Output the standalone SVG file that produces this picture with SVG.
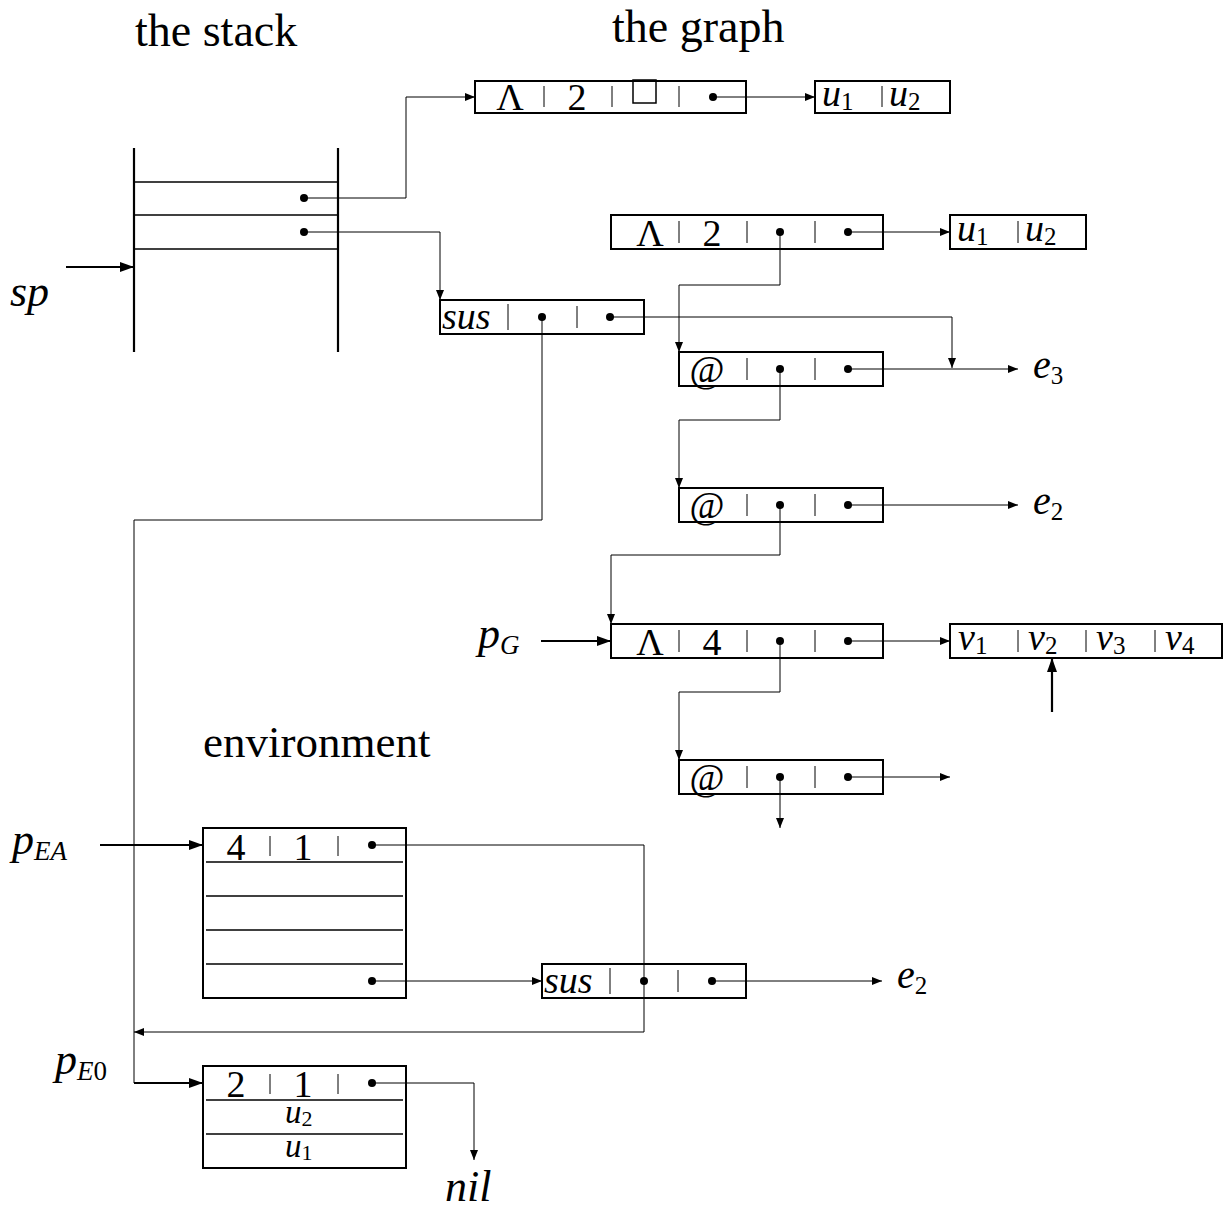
<svg xmlns="http://www.w3.org/2000/svg" width="1232" height="1211" viewBox="0 0 1232 1211">
<defs>
<style>
.box{fill:#fff;stroke:#000;stroke-width:2}
.sep{stroke:#000;stroke-width:1}
.in{stroke:#000;stroke-width:1.3}
.ln{fill:none;stroke:#000;stroke-width:1}
.thk{fill:none;stroke:#000;stroke-width:2.2}
.dot{fill:#000}
text{font-family:"Liberation Serif","DejaVu Serif",serif;fill:#000}
.t{font-size:38px;text-anchor:middle}
.m{font-style:italic}
.ttl{font-size:46px}
.sub{font-size:25px;font-style:normal}
.si{font-size:27px;font-style:italic}
.su{font-size:27px;font-style:normal}
</style>
<marker id="a" viewBox="0 0 10 8" refX="10" refY="4" markerWidth="10" markerHeight="8" markerUnits="userSpaceOnUse" orient="auto"><path d="M0,0L10,4L0,8z" fill="#000"/></marker>
<marker id="A" viewBox="0 0 14 10" refX="14" refY="5" markerWidth="14" markerHeight="10" markerUnits="userSpaceOnUse" orient="auto"><path d="M0,0L14,5L0,10z" fill="#000"/></marker>
</defs>
<rect width="1232" height="1211" fill="#fff"/>

<text class="ttl" x="135" y="46">the stack</text>
<text class="ttl" x="612" y="42">the graph</text>
<text x="203" y="757" font-size="45">environment</text>

<g id="stack">
<line class="thk" x1="134" y1="148" x2="134" y2="352"/>
<line class="thk" x1="338" y1="148" x2="338" y2="352"/>
<line class="in" x1="134" y1="182" x2="338" y2="182"/>
<line class="in" x1="134" y1="215" x2="338" y2="215"/>
<line class="in" x1="134" y1="249" x2="338" y2="249"/>
<circle class="dot" cx="304" cy="198" r="4"/>
<circle class="dot" cx="304" cy="232" r="4"/>
</g>
<g id="sp"><text class="m" x="10" y="306" font-size="44">sp</text></g>

<g id="lam2top">
<rect class="box" x="475" y="81" width="271" height="32"/>
<text class="t" x="510" y="110">Λ</text>
<line class="sep" x1="544" y1="86" x2="544" y2="107"/>
<text class="t" x="577" y="110">2</text>
<line class="sep" x1="612" y1="86" x2="612" y2="107"/>
<rect x="633" y="80" width="23" height="23" fill="none" stroke="#000" stroke-width="1.5"/>
<line class="sep" x1="679" y1="86" x2="679" y2="107"/>
<circle class="dot" cx="713" cy="97" r="4"/>
</g>
<g id="u12top">
<rect class="box" x="815" y="81" width="135" height="32"/>
<text class="m" x="822" y="106" font-size="38">u<tspan class="sub" dy="4">1</tspan></text>
<line class="sep" x1="882" y1="86" x2="882" y2="107"/>
<text class="m" x="889" y="106" font-size="38">u<tspan class="sub" dy="4">2</tspan></text>
</g>

<g id="lam2">
<rect class="box" x="611" y="215" width="272" height="34"/>
<text class="t" x="650" y="246">Λ</text>
<line class="sep" x1="679" y1="221" x2="679" y2="243"/>
<text class="t" x="712" y="246">2</text>
<line class="sep" x1="747" y1="221" x2="747" y2="243"/>
<circle class="dot" cx="780" cy="232" r="4"/>
<line class="sep" x1="815" y1="221" x2="815" y2="243"/>
<circle class="dot" cx="848" cy="232" r="4"/>
</g>
<g id="u12">
<rect class="box" x="950" y="215" width="136" height="34"/>
<text class="m" x="957" y="241" font-size="38">u<tspan class="sub" dy="4">1</tspan></text>
<line class="sep" x1="1018" y1="221" x2="1018" y2="243"/>
<text class="m" x="1025" y="241" font-size="38">u<tspan class="sub" dy="4">2</tspan></text>
</g>

<g id="sus1">
<rect class="box" x="440" y="300" width="204" height="34"/>
<text class="m" x="442" y="329" font-size="38">sus</text>
<line class="sep" x1="508" y1="304" x2="508" y2="330"/>
<circle class="dot" cx="542" cy="317" r="4"/>
<line class="sep" x1="577" y1="306" x2="577" y2="328"/>
<circle class="dot" cx="610" cy="317" r="4"/>
</g>

<g id="app1">
<rect class="box" x="679" y="352" width="204" height="34"/>
<text class="t" x="707" y="382">@</text>
<line class="sep" x1="747" y1="358" x2="747" y2="380"/>
<circle class="dot" cx="780" cy="369" r="4"/>
<line class="sep" x1="815" y1="358" x2="815" y2="380"/>
<circle class="dot" cx="848" cy="369" r="4"/>
</g>
<g id="e3"><text class="m" x="1033" y="378" font-size="40">e<tspan class="sub" dy="6">3</tspan></text></g>

<g id="app2">
<rect class="box" x="679" y="488" width="204" height="34"/>
<text class="t" x="707" y="518">@</text>
<line class="sep" x1="747" y1="494" x2="747" y2="516"/>
<circle class="dot" cx="780" cy="505" r="4"/>
<line class="sep" x1="815" y1="494" x2="815" y2="516"/>
<circle class="dot" cx="848" cy="505" r="4"/>
</g>
<g id="e2a"><text class="m" x="1033" y="514" font-size="40">e<tspan class="sub" dy="6">2</tspan></text></g>

<g id="lam4">
<rect class="box" x="611" y="624" width="272" height="34"/>
<text class="t" x="650" y="655">Λ</text>
<line class="sep" x1="679" y1="630" x2="679" y2="652"/>
<text class="t" x="712" y="655">4</text>
<line class="sep" x1="747" y1="630" x2="747" y2="652"/>
<circle class="dot" cx="780" cy="641" r="4"/>
<line class="sep" x1="815" y1="630" x2="815" y2="652"/>
<circle class="dot" cx="848" cy="641" r="4"/>
</g>
<g id="pG"><text class="m" x="478" y="648" font-size="44">p<tspan class="si" dy="6">G</tspan></text></g>
<g id="v14">
<rect class="box" x="950" y="624" width="272" height="34"/>
<text class="m" x="958" y="650" font-size="38">v<tspan class="sub" dy="4">1</tspan></text>
<line class="sep" x1="1018" y1="630" x2="1018" y2="652"/>
<text class="m" x="1028" y="650" font-size="38">v<tspan class="sub" dy="4">2</tspan></text>
<line class="sep" x1="1086" y1="630" x2="1086" y2="652"/>
<text class="m" x="1096" y="650" font-size="38">v<tspan class="sub" dy="4">3</tspan></text>
<line class="sep" x1="1155" y1="630" x2="1155" y2="652"/>
<text class="m" x="1165" y="650" font-size="38">v<tspan class="sub" dy="4">4</tspan></text>
</g>

<g id="app3">
<rect class="box" x="679" y="760" width="204" height="34"/>
<text class="t" x="707" y="790">@</text>
<line class="sep" x1="747" y1="766" x2="747" y2="788"/>
<circle class="dot" cx="780" cy="777" r="4"/>
<line class="sep" x1="815" y1="766" x2="815" y2="788"/>
<circle class="dot" cx="848" cy="777" r="4"/>
</g>

<g id="envA">
<rect class="box" x="203" y="828" width="203" height="170"/>
<line class="in" x1="206" y1="862" x2="403" y2="862"/>
<line class="in" x1="206" y1="896" x2="403" y2="896"/>
<line class="in" x1="206" y1="930" x2="403" y2="930"/>
<line class="in" x1="206" y1="964" x2="403" y2="964"/>
<text class="t" x="236" y="860">4</text>
<line class="sep" x1="270" y1="836" x2="270" y2="856"/>
<text class="t" x="303" y="860">1</text>
<line class="sep" x1="338" y1="836" x2="338" y2="856"/>
<circle class="dot" cx="372" cy="845" r="4"/>
<circle class="dot" cx="372" cy="981" r="4"/>
</g>
<g id="pEA"><text class="m" x="12" y="854" font-size="44">p<tspan class="si" dy="6">EA</tspan></text></g>

<g id="sus2">
<rect class="box" x="542" y="964" width="204" height="34"/>
<text class="m" x="544" y="993" font-size="38">sus</text>
<line class="sep" x1="610" y1="968" x2="610" y2="994"/>
<circle class="dot" cx="644" cy="981" r="4"/>
<line class="sep" x1="678" y1="970" x2="678" y2="992"/>
<circle class="dot" cx="712" cy="981" r="4"/>
</g>
<g id="e2b"><text class="m" x="897" y="988" font-size="40">e<tspan class="sub" dy="6">2</tspan></text></g>

<g id="env0">
<rect class="box" x="203" y="1066" width="203" height="102"/>
<line class="in" x1="206" y1="1100" x2="403" y2="1100"/>
<line class="in" x1="206" y1="1134" x2="403" y2="1134"/>
<text class="t" x="236" y="1097">2</text>
<line class="sep" x1="270" y1="1074" x2="270" y2="1094"/>
<text class="t" x="303" y="1097">1</text>
<line class="sep" x1="338" y1="1074" x2="338" y2="1094"/>
<circle class="dot" cx="372" cy="1083" r="4"/>
<text class="m" x="285" y="1123" font-size="33">u<tspan font-size="22" font-style="normal" dy="3">2</tspan></text>
<text class="m" x="285" y="1157" font-size="33">u<tspan font-size="22" font-style="normal" dy="3">1</tspan></text>
</g>
<g id="pE0"><text class="m" x="55" y="1074" font-size="44">p<tspan class="si" dy="6">E</tspan><tspan class="su">0</tspan></text></g>
<g id="nil"><text class="m" x="445" y="1201" font-size="44">nil</text></g>

<g id="connectors">
<path class="ln" d="M304,198H406V97H475" marker-end="url(#a)"/>
<path class="ln" d="M304,232H440V300" marker-end="url(#a)"/>
<path class="thk" d="M66,267H134" marker-end="url(#A)"/>
<path class="ln" d="M713,97H815" marker-end="url(#a)"/>
<path class="ln" d="M848,232H950" marker-end="url(#a)"/>
<path class="ln" d="M780,232V285H679V352" marker-end="url(#a)"/>
<path class="ln" d="M610,317H952V368" marker-end="url(#a)"/>
<path class="ln" d="M848,369H1018" marker-end="url(#a)"/>
<path class="ln" d="M780,369V420H679V488" marker-end="url(#a)"/>
<path class="ln" d="M848,505H1018" marker-end="url(#a)"/>
<path class="ln" d="M780,505V555H611V624" marker-end="url(#a)"/>
<path class="thk" d="M541,641H611" marker-end="url(#A)"/>
<path class="ln" d="M848,641H950" marker-end="url(#a)"/>
<path class="thk" d="M1052,712V658" marker-end="url(#A)"/>
<path class="ln" d="M780,641V692H679V760" marker-end="url(#a)"/>
<path class="ln" d="M848,777H950" marker-end="url(#a)"/>
<path class="ln" d="M780,777V828" marker-end="url(#a)"/>
<path class="ln" d="M542,317V520H134V1083"/>
<path class="thk" d="M134,1083H203" marker-end="url(#A)"/>
<path class="thk" d="M100,845H203" marker-end="url(#A)"/>
<path class="ln" d="M372,845H644V1032H134" marker-end="url(#a)"/>
<path class="ln" d="M372,981H542" marker-end="url(#a)"/>
<path class="ln" d="M712,981H882" marker-end="url(#a)"/>
<path class="ln" d="M372,1083H474V1160" marker-end="url(#a)"/>
</g>
</svg>
